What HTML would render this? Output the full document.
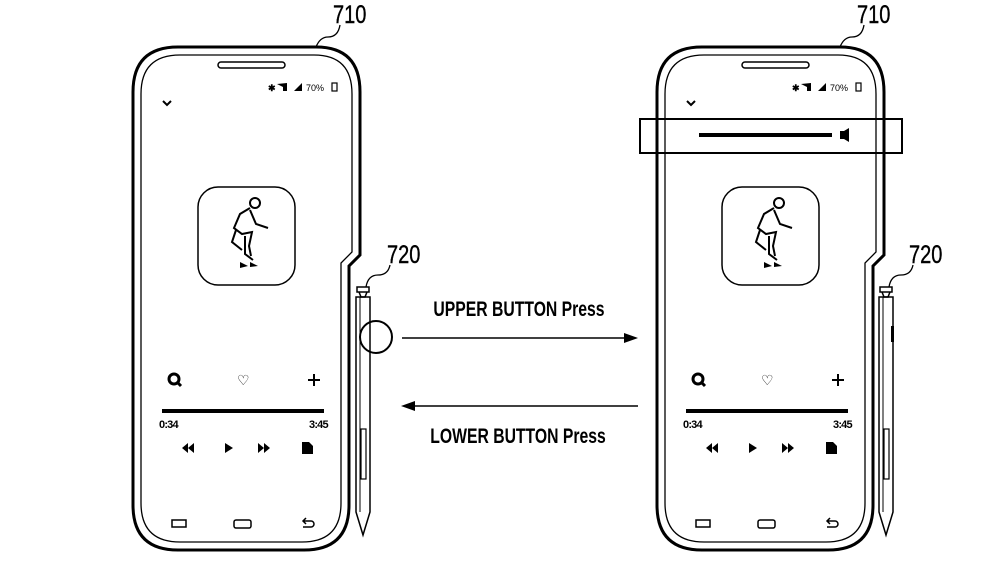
<!DOCTYPE html>
<html><head><meta charset="utf-8"><style>
html,body{margin:0;padding:0;background:#fff;width:1000px;height:572px;overflow:hidden}
text{font-family:"Liberation Sans Narrow","Liberation Sans",sans-serif}
</style></head><body>
<svg width="1000" height="572" viewBox="0 0 1000 572" xmlns="http://www.w3.org/2000/svg">
<defs>
<g id="phone">
  <path d="M133,92 Q133,47 178,47 H316 Q360,47 360,92 V255 L349,266 V505 Q349,550 304,550 H178 Q133,550 133,505 Z" fill="none" stroke="#000" stroke-width="3"/>
  <path d="M141,94 Q141,55 180,55 H314 Q352,55 352,94 V252 L341,263 V503 Q341,542 302,542 H180 Q141,542 141,503 Z" fill="none" stroke="#000" stroke-width="1.3"/>
  <rect x="218" y="62" width="67" height="6" rx="3" fill="none" stroke="#000" stroke-width="1.5"/>
  <text x="268" y="91" font-size="9" font-weight="bold">✱</text>
  <path d="M277,84 l6,3 v4 h4 v-8 z" fill="#000"/>
  <path d="M294,91 l8,-8 v8 z" fill="#000"/>
  <text x="306" y="91" font-size="9">70%</text>
  <rect x="332" y="83" width="5" height="8" fill="none" stroke="#000" stroke-width="1.2"/>
  <path d="M163,101 l4,4 l4,-4" fill="none" stroke="#000" stroke-width="2"/>
  <rect x="198" y="187" width="97" height="98" rx="20" fill="none" stroke="#000" stroke-width="1.5"/>
  <g fill="none" stroke="#000" stroke-width="2">
    <circle cx="255" cy="203" r="5"/>
    <path d="M250,208 l-10,6 l-6,14 l8,6 l10,-2 l-3,14 l2,10 M250,210 l6,14 l12,4 M236,230 l-4,12 l10,8 M245,236 l0,18 l8,6"/>
  </g>
  <path d="M240,262 l8,4 l-8,2 z M250,262 l8,4 l-8,1 z" fill="#000"/>
  <circle cx="174" cy="379" r="5" fill="none" stroke="#000" stroke-width="3"/>
  <path d="M177,382 l4,4" stroke="#000" stroke-width="3"/>
  <text x="237" y="385" font-size="14">♡</text>
  <path d="M314,374 v12 M308,380 h12" stroke="#000" stroke-width="2"/>
  <rect x="162" y="409" width="162" height="4" fill="#000"/>
  <text x="159" y="428" font-size="11" font-weight="bold" letter-spacing="-0.8">0:34</text>
  <text x="309" y="428" font-size="11" font-weight="bold" letter-spacing="-0.8">3:45</text>
  <path d="M182,448 l6,-5 v10 z M188,448 l6,-5 v10 z" fill="#000"/>
  <path d="M225,443 l8,5 l-8,5 z" fill="#000"/>
  <path d="M258,443 l6,5 l-6,5 z M264,443 l6,5 l-6,5 z" fill="#000"/>
  <path d="M302,442 h7 l4,4 v8 h-11 z" fill="#000"/>
  <rect x="172" y="520" width="14" height="7" fill="none" stroke="#000" stroke-width="1.5"/>
  <rect x="234" y="520" width="17" height="8" rx="2" fill="none" stroke="#000" stroke-width="1.5"/>
  <path d="M303,521 h8 a3,3 0 0 1 0,6 h-8 M306,518 l-3,3 l3,3" fill="none" stroke="#000" stroke-width="1.5"/>
</g>
<g id="pen">
  <rect x="357" y="287" width="12" height="5" fill="none" stroke="#000" stroke-width="1.5"/>
  <path d="M359,292 l2,5 h4 l2,-5" fill="none" stroke="#000" stroke-width="1.5"/>
  <path d="M356,297 h14 V512 L363,535 L356,512 Z" fill="none" stroke="#000" stroke-width="1.5"/>
  <path d="M360,297 V512" stroke="#000" stroke-width="1"/>
  <rect x="361" y="429" width="5" height="50" fill="none" stroke="#000" stroke-width="1.2"/>
</g>
</defs>
<use href="#phone"/>
<use href="#pen"/>
<use href="#phone" transform="translate(524,0)"/>
<use href="#pen" transform="translate(523,0)"/>
<rect x="891" y="326" width="3" height="16" fill="#000"/>
<!-- labels 710 / 720 -->
<path d="M316,47 q4,-10 12,-10 q10,0 12,-12" fill="none" stroke="#000" stroke-width="1.3"/>
<text x="333" y="23" font-size="25" stroke="#000" stroke-width="0.4" transform="scale(0.8,1)" transform-origin="333 23">710</text>
<path d="M840,47 q4,-10 12,-10 q10,0 12,-12" fill="none" stroke="#000" stroke-width="1.3"/>
<text x="857" y="23" font-size="25" stroke="#000" stroke-width="0.4" transform="scale(0.8,1)" transform-origin="857 23">710</text>
<path d="M366,287 q2,-12 12,-12 q10,0 12,-10" fill="none" stroke="#000" stroke-width="1.3"/>
<text x="387" y="263" font-size="25" stroke="#000" stroke-width="0.4" transform="scale(0.8,1)" transform-origin="387 263">720</text>
<path d="M889,287 q2,-12 12,-12 q10,0 12,-10" fill="none" stroke="#000" stroke-width="1.3"/>
<text x="909" y="263" font-size="25" stroke="#000" stroke-width="0.4" transform="scale(0.8,1)" transform-origin="909 263">720</text>
<!-- circle on pen -->
<circle cx="376" cy="337" r="16" fill="none" stroke="#000" stroke-width="2"/>
<!-- arrows -->
<path d="M402,338 H628" stroke="#000" stroke-width="1.5"/>
<path d="M638,338 l-14,-5 v10 z" fill="#000"/>
<path d="M412,406 H638" stroke="#000" stroke-width="1.5"/>
<path d="M401,406 l14,-5 v10 z" fill="#000"/>
<text x="519" y="316" font-size="21" font-weight="bold" text-anchor="middle" transform="scale(0.75,1)" transform-origin="519 316">UPPER BUTTON Press</text>
<text x="518" y="443" font-size="21" font-weight="bold" text-anchor="middle" transform="scale(0.75,1)" transform-origin="518 443">LOWER BUTTON Press</text>
<!-- volume box on right phone -->
<rect x="640" y="119" width="262" height="34" fill="none" stroke="#000" stroke-width="2"/>
<rect x="699" y="133" width="133" height="4" fill="#000"/>
<path d="M840,131 h4 l5,-3 v14 l-5,-3 h-4 z" fill="#000"/>
</svg>
</body></html>
